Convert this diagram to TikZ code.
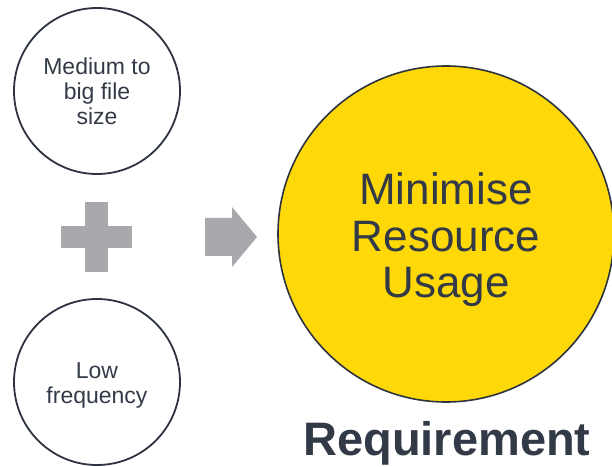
\documentclass[tikz,border=0pt]{standalone}
\usepackage{fontspec}
\setmainfont{Liberation Sans}
\definecolor{ringline}{HTML}{2D3340}
\definecolor{signgray}{HTML}{A7A9AC}
\definecolor{goalyellow}{HTML}{FFD808}
\definecolor{textdark}{HTML}{333A47}
\begin{document}
\begin{tikzpicture}[x=1pt,y=1pt,
  factor/.style={circle,draw=ringline,line width=1.8pt,minimum size=166pt,inner sep=0pt,
    align=center,text=textdark,font=\fontsize{23}{25}\selectfont},
  goal/.style={circle,draw=ringline,line width=1.6pt,fill=goalyellow,minimum size=336pt,inner sep=0pt,
    align=center,text=textdark,font=\fontsize{44}{46.5}\selectfont}]
\useasboundingbox (0,0) rectangle (612,466);
\node[factor] (size) at (97,375) {Medium to\\big file\\size};
\node[factor] (freq) at (97,84) {\rule{0pt}{23pt}Low\\frequency};
% plus sign
\fill[signgray] (61,218) rectangle (132,240);
\fill[signgray] (85,194) rectangle (108,264);
% block arrow
\fill[signgray] (205,210) -- (232,210) -- (232,199) -- (257,229) -- (232,259) -- (232,248) -- (205,248) -- cycle;
\node[goal] (usage) at (446,232) {\rule{0pt}{44pt}Minimise\\Resource\\Usage};
\node[anchor=base,text=textdark,font=\fontsize{47}{49}\selectfont\bfseries] (req) at (447,11) {Requirement};
\end{tikzpicture}
\end{document}
